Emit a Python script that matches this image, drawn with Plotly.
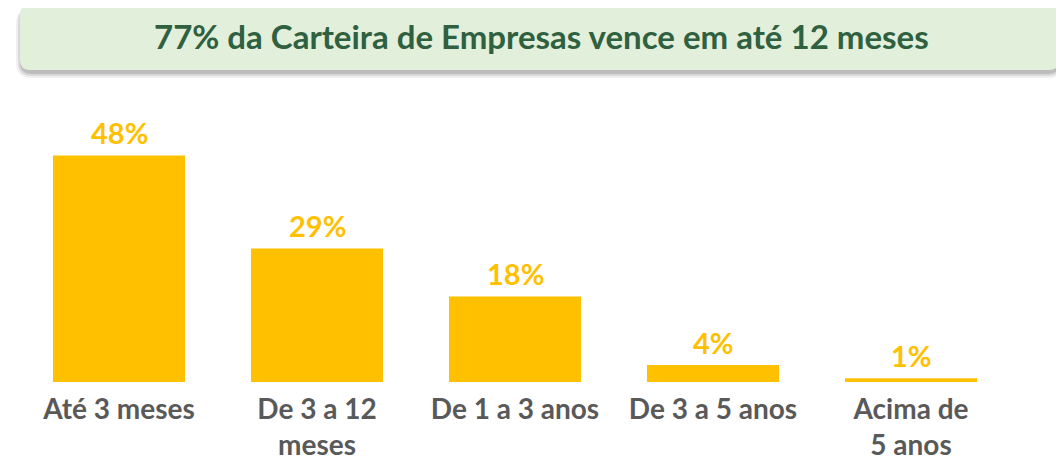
import plotly.graph_objects as go

categories = ["Até 3 meses", "De 3 a 12<br>meses", "De 1 a 3 anos", "De 3 a 5 anos", "Acima de<br>5 anos"]
values = [48, 28.3, 18.1, 3.6, 0.8]  # bar heights
labels = ["48%", "29%", "18%", "4%", "1%"]
title = "77% da Carteira de Empresas vence em até 12 meses"

W, H = 1064, 461
OFF = 8  # page body margin in the browser
L, R, T, B = 20 - OFF, 54 + OFF, 138, 87
PW, PH = W - L - R, H - T - B

# screen pixel -> paper coords
def px(x): return (x - OFF - L) / PW
def py(y): return (H - B - (y - OFF)) / PH

def rrect(x0, y0, x1, y1, r):
    pts = [
        f"M {px(x0+r)},{py(y0)}", f"L {px(x1-r)},{py(y0)}",
        f"Q {px(x1)},{py(y0)} {px(x1)},{py(y0+r)}", f"L {px(x1)},{py(y1-r)}",
        f"Q {px(x1)},{py(y1)} {px(x1-r)},{py(y1)}", f"L {px(x0+r)},{py(y1)}",
        f"Q {px(x0)},{py(y1)} {px(x0)},{py(y1-r)}", f"L {px(x0)},{py(y0+r)}",
        f"Q {px(x0)},{py(y0)} {px(x0+r)},{py(y0)}", "Z"]
    return " ".join(pts)

fig = go.Figure(go.Bar(
    x=categories, y=values, cliponaxis=False,
    marker=dict(color="#FFC000", line=dict(width=0)),
    hoverinfo="skip"))

for x, v, t in zip(categories, values, labels):
    fig.add_annotation(x=x, y=v, text=f"<b>{t}</b>", showarrow=False, yanchor="middle", yshift=23,
                       font=dict(family="Lato", size=29, color="#FFC000"))

# soft shadow behind title box
for d, a in [(6, 0.08), (4, 0.12), (2, 0.18)]:
    fig.add_shape(type="path", xref="paper", yref="paper",
                  path=rrect(20 - d + 2, 5 + 3, 1059 + d - 1, 70 + d + 2, 10 + d),
                  fillcolor=f"rgba(60,60,60,{a})", line=dict(width=0), layer="below")
fig.add_shape(type="path", xref="paper", yref="paper", path=rrect(20, 5, 1059, 70, 10),
              fillcolor="#E2EFDA", line=dict(width=0), layer="below")
fig.add_annotation(text=f"<b>{title}</b>", xref="paper", yref="paper", x=px(541), y=py(36),
                   xanchor="center", yanchor="middle",
                   showarrow=False, font=dict(family="Lato", size=33, color="#2F6040"))

fig.update_layout(
    width=W, height=H, margin=dict(l=L, r=R, t=T, b=B),
    paper_bgcolor="white", plot_bgcolor="white", bargap=0.333, showlegend=False,
    xaxis=dict(showline=False, showgrid=False, ticks="", ticklabelstandoff=8, automargin=False,
               tickfont=dict(family="Lato", size=28, color="#595959", weight="bold")),
    yaxis=dict(range=[0, 50], visible=False, automargin=False),
)
fig.write_html("out.html")
